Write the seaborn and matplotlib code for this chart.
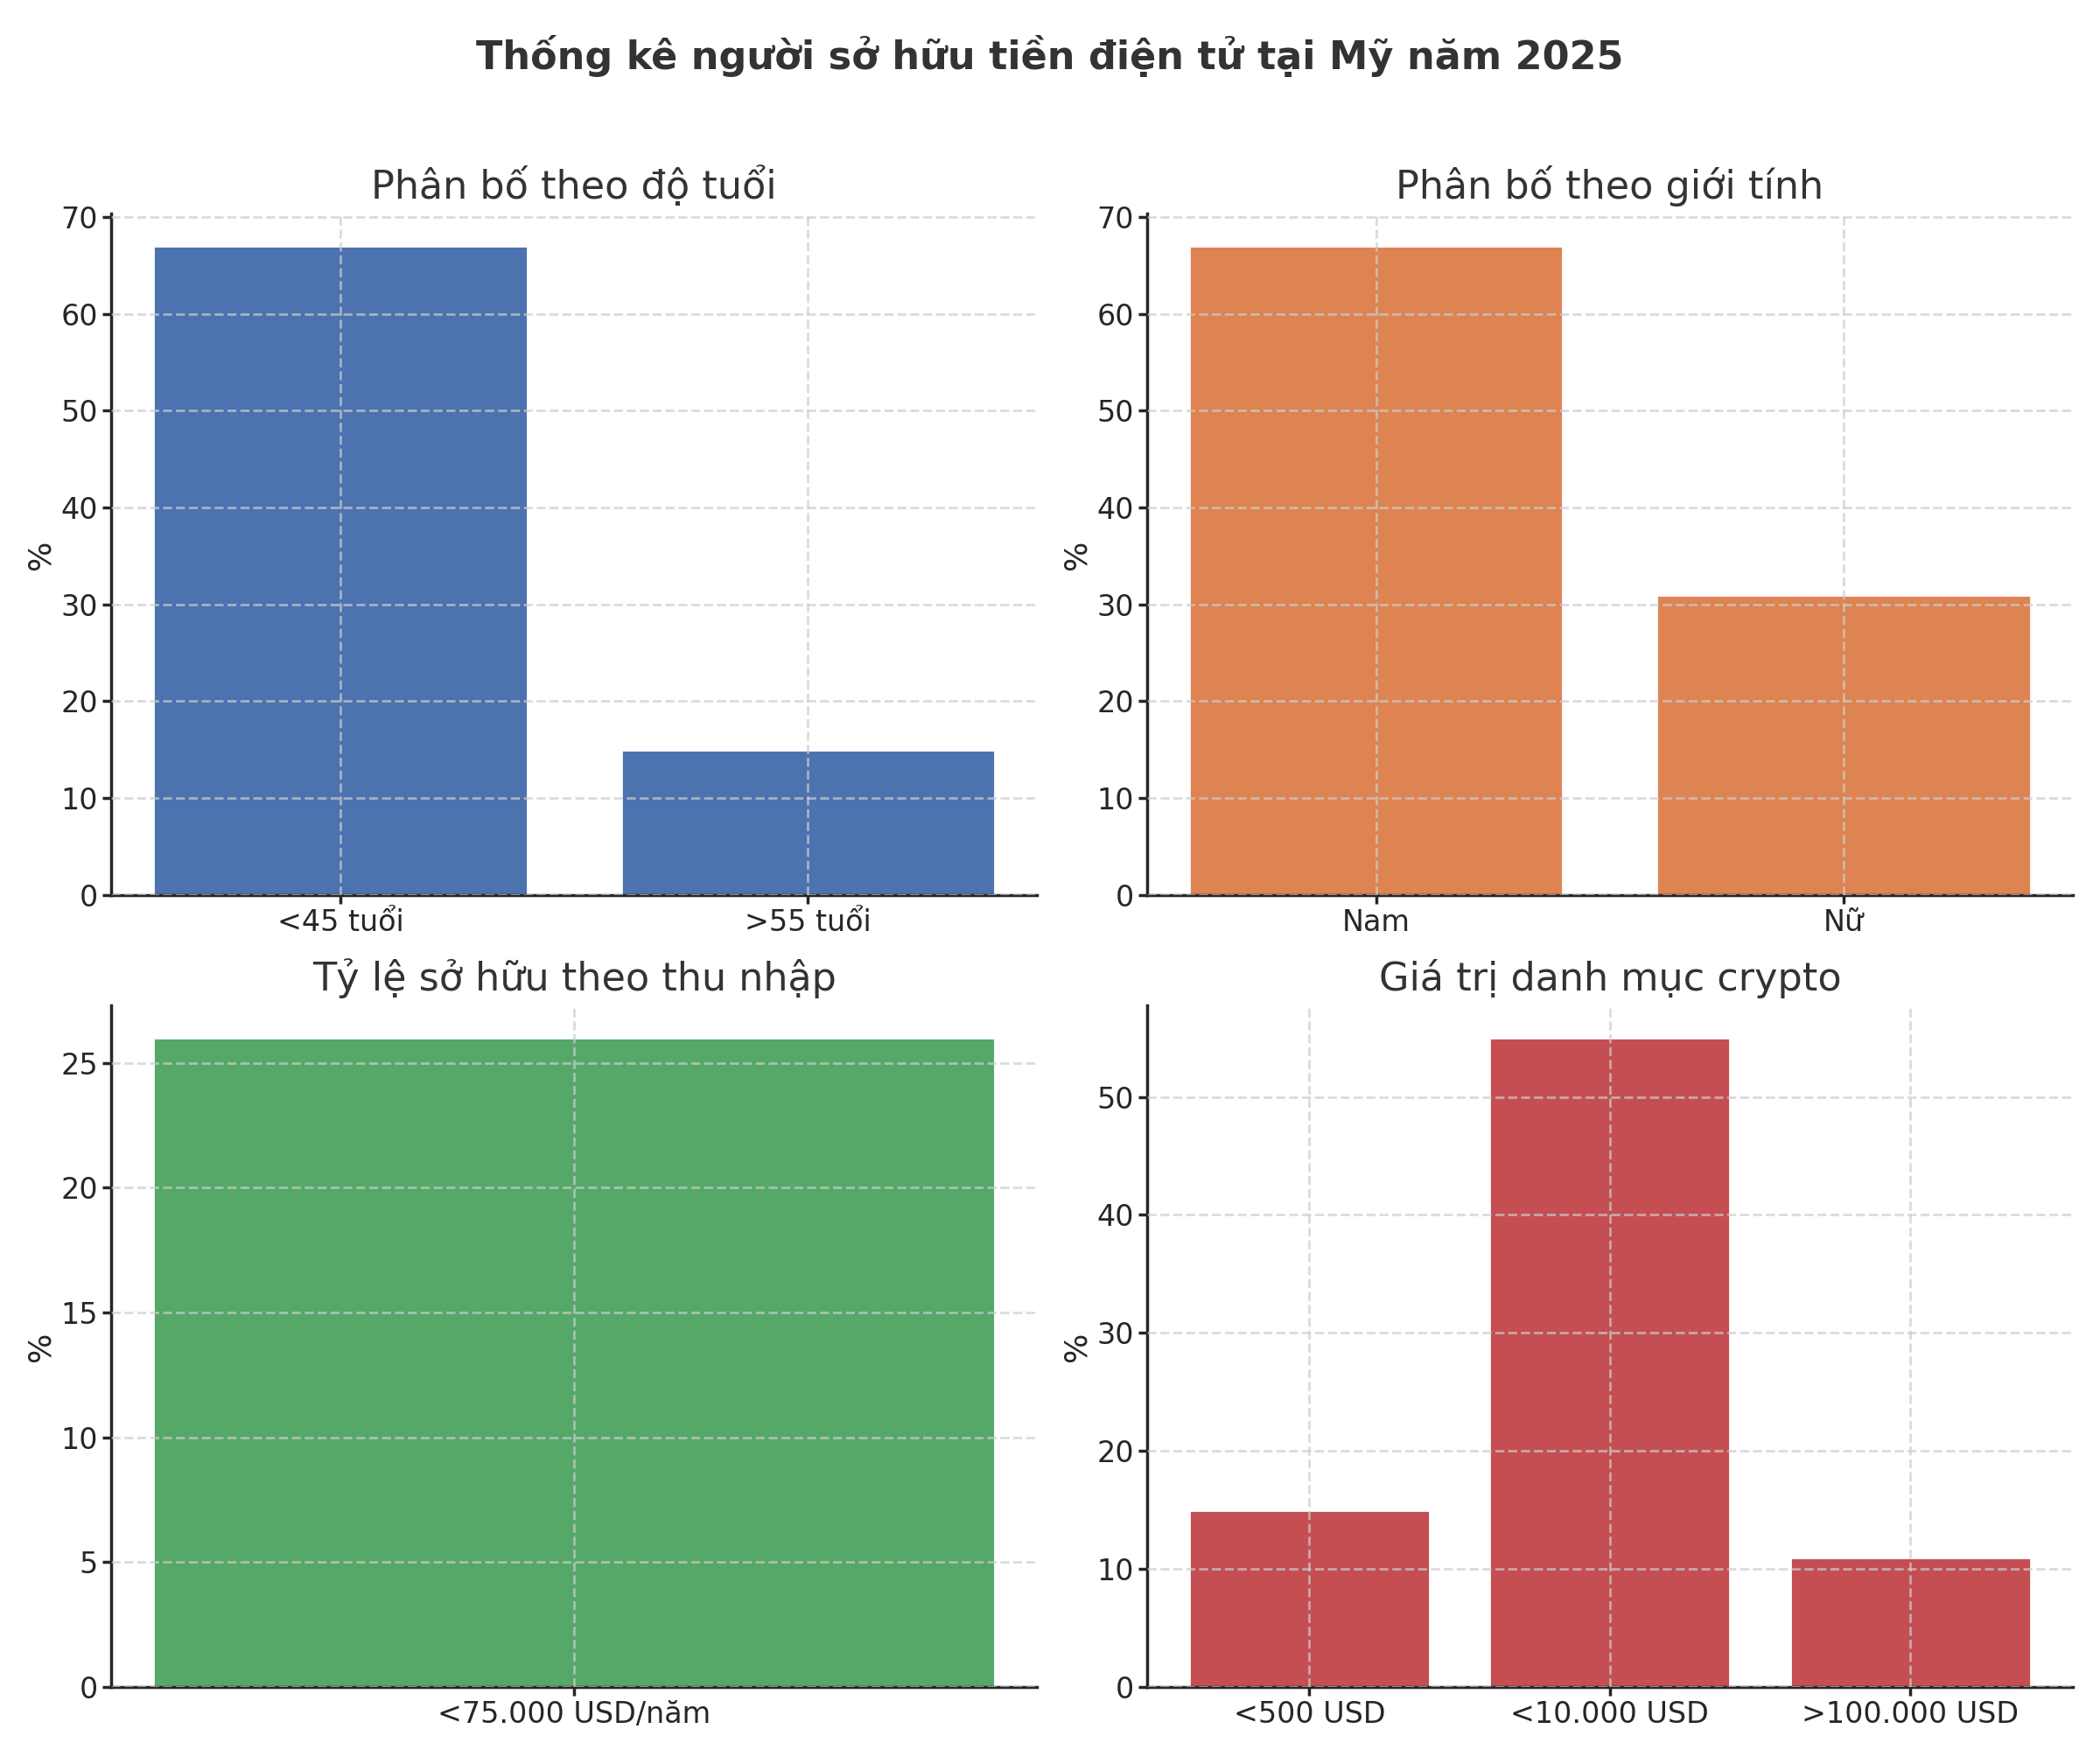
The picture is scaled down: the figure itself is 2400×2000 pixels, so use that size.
import matplotlib
matplotlib.use("Agg")
import matplotlib.pyplot as plt
import seaborn as sns
import pandas as pd

# Data
age_labels = ["<45 tuổi", ">55 tuổi"]
age_values = [67, 15]

gender_labels = ["Nam", "Nữ"]
gender_values = [67, 31]

income_labels = ["<75.000 USD/năm"]
income_values = [26]

portfolio_labels = ["<500 USD", "<10.000 USD", ">100.000 USD"]
portfolio_values = [15, 55, 11]

sns.set_theme(style="ticks")
plt.rcParams['font.family'] = ['DejaVu Sans']
plt.rcParams['text.color'] = '#333333'
plt.rcParams['axes.titlecolor'] = '#333333'

deep = sns.color_palette("deep")

fig, axes = plt.subplots(2, 2, figsize=(12, 10), dpi=200)

panels = [
    (axes[0, 0], age_labels, age_values, deep[0], "Phân bố theo độ tuổi"),
    (axes[0, 1], gender_labels, gender_values, deep[1], "Phân bố theo giới tính"),
    (axes[1, 0], income_labels, income_values, deep[2], "Tỷ lệ sở hữu theo thu nhập"),
    (axes[1, 1], portfolio_labels, portfolio_values, deep[3], "Giá trị danh mục crypto"),
]

for ax, labels, values, color, title in panels:
    df = pd.DataFrame({"label": labels, "value": values})
    sns.barplot(data=df, x="label", y="value", color=color, saturation=1,
                width=0.8, ax=ax)
    # back to matplotlib's default x margins
    ax.set_xlim(auto=True)
    ax.margins(x=0.05)
    ax.autoscale(enable=True, axis="x")
    ax.set_title(title, fontsize=16)
    ax.set_xlabel("")
    ax.set_ylabel("%", fontsize=13, labelpad=2)
    ax.tick_params(labelsize=12, length=3.5, pad=2)
    ax.grid(True, linestyle="--", alpha=0.7)
    ax.set_axisbelow(False)
    sns.despine(ax=ax)

fig.suptitle("Thống kê người sở hữu tiền điện tử tại Mỹ năm 2025",
             fontsize=16, fontweight="bold", y=0.98)
fig.subplots_adjust(left=0.053, right=0.987, top=0.878, bottom=0.036,
                    wspace=0.119, hspace=0.162)
fig.savefig("out.png", dpi=200)
